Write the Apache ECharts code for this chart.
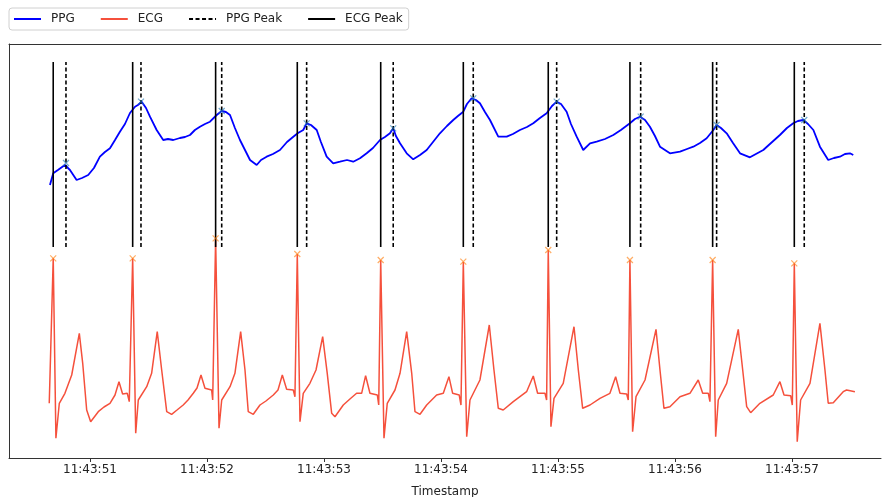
<!DOCTYPE html>
<html><head><meta charset="utf-8">
<script src="https://cdn.jsdelivr.net/npm/echarts@6/dist/echarts.min.js"></script>
<style>html,body{margin:0;padding:0;background:#fff}#c{width:882px;height:497px}</style>
</head><body><div id="c"></div>
<script>
// Seconds after 11:43:50 and signal amplitude (arbitrary units)
const ppgT = [0.658,0.686,0.726,0.786,0.795,0.829,0.886,0.932,0.985,1.034,1.085,1.128,1.171,1.214,1.256,1.299,1.342,1.385,1.410,1.442,1.479,1.513,1.570,1.626,1.667,1.712,1.769,1.812,1.855,1.897,1.940,1.983,2.026,2.083,2.126,2.162,2.197,2.239,2.282,2.325,2.368,2.425,2.462,2.510,2.564,2.624,2.684,2.738,2.778,2.823,2.852,2.889,2.938,2.974,3.023,3.079,3.137,3.197,3.250,3.308,3.365,3.419,3.479,3.521,3.564,3.592,3.615,3.650,3.707,3.763,3.821,3.878,3.932,3.991,4.051,4.105,4.145,4.191,4.222,4.262,4.299,4.333,4.376,4.419,4.490,4.562,4.615,4.675,4.735,4.789,4.846,4.903,4.949,4.989,5.026,5.074,5.111,5.160,5.216,5.231,5.274,5.331,5.402,5.473,5.538,5.615,5.658,5.701,5.744,5.786,5.829,5.872,5.957,6.043,6.103,6.157,6.214,6.271,6.328,6.356,6.393,6.442,6.496,6.556,6.641,6.692,6.755,6.821,6.897,6.957,7.011,7.051,7.097,7.137,7.183,7.239,7.310,7.359,7.410,7.453,7.496,7.524];
const ppgV = [273,284.7,288,293,295,288,278,280,283,290,301.3,306,309.7,318,326.3,334,345,351.3,353,356.3,350,341.3,328,318,319,318,320,321,323,328,331.3,334,336.3,343,347,346,343,330,318,308,298,293,298,301.3,304,308,316,321.3,325,328,334.7,333,328,316,301.3,294.7,296.3,298,296.3,299.7,304.7,310,318,321,324.7,329.7,322,314.7,304.7,298.7,303,308,316,324.7,332,338,342,346.3,354,359.7,358,354.7,346,338,321.3,321.3,324,328,331,334.7,340,344.7,352,356.3,354,346.3,334,321.3,308,306.3,314.7,316.3,319,323,328,334.7,339,341.3,338,331.3,322,311.3,304.7,306.3,309,311.3,315,319.7,328,333,330,324.7,315,304.7,300.7,304,308,315,323,330,334.7,337,338,334,328,311.3,298,300,301.3,304,304.7,303];

const ecgT = [0.652,0.686,0.709,0.738,0.786,0.844,0.909,0.938,0.972,1.006,1.071,1.120,1.171,1.214,1.248,1.279,1.319,1.336,1.365,1.391,1.413,1.485,1.527,1.575,1.613,1.656,1.698,1.744,1.797,1.838,1.883,1.915,1.949,1.983,2.040,2.049,2.074,2.103,2.126,2.197,2.239,2.288,2.325,2.353,2.396,2.453,2.504,2.567,2.607,2.644,2.681,2.738,2.752,2.772,2.795,2.823,2.880,2.932,2.989,3.028,3.066,3.094,3.165,3.222,3.279,3.322,3.356,3.393,3.456,3.468,3.485,3.513,3.541,3.607,3.650,3.707,3.750,3.778,3.821,3.878,3.963,4.020,4.068,4.100,4.156,4.171,4.191,4.220,4.248,4.333,4.413,4.453,4.490,4.532,4.618,4.732,4.789,4.826,4.889,4.903,4.917,4.940,4.966,5.045,5.137,5.174,5.211,5.274,5.359,5.444,5.493,5.530,5.587,5.601,5.615,5.638,5.667,5.744,5.838,5.872,5.906,5.957,6.043,6.128,6.199,6.237,6.285,6.299,6.322,6.348,6.370,6.442,6.541,6.579,6.613,6.647,6.726,6.840,6.897,6.932,6.989,7.003,7.020,7.045,7.074,7.154,7.239,7.282,7.310,7.353,7.438,7.467,7.538];
const ecgV = [54.7,199.7,19.7,54.7,64.7,83,124.7,94.7,48,36.3,46.3,51,54.7,63,76.3,64,64.7,56.3,199.7,24.7,58,71.3,84.7,126.3,88,46.3,43.7,48,53,58,64.7,70,83,69.7,68,58,219.7,29.7,58,71.3,84.7,126.3,88,46.3,43.7,53,57,63,68,83,68.7,68,61.3,204,36.3,64.7,74.7,88,121.3,84.7,44.7,41.3,53,59,64.7,64.7,82.3,64.7,63,53,198,19.7,54.7,68,84.7,126.3,84.7,46.3,43.7,53,63,64.7,81.3,64.7,63,53,196.3,21.3,58,78,133,88,49.7,48,56.3,66.3,82,64.7,64.7,58,208,31.3,59.7,74.7,131.3,88,49.7,53,59.7,64.7,81.3,64.7,64,58,198,26.3,61.3,78,128.7,88,49.7,51.3,61.3,64.7,78,64.7,64.7,56.3,198,21.3,58,74.7,128.7,88,51.3,45.3,54.7,63,76.3,63,62.3,53,194.7,16.3,58,74.7,134.7,88,54.7,55.3,66.3,68,66.3];

const ecgPeakT = [0.686,1.365,2.074,2.772,3.485,4.191,4.917,5.615,6.322,7.020];
const ecgPeakV = [199.7,199.7,219.7,204,198,196.3,208,198,198,194.7];
const ppgPeakT = [0.795,1.436,2.126,2.852,3.592,4.276,4.989,5.707,6.356,7.105];
const ppgPeakV = [295,356.3,347,334.7,329.7,359.7,356.3,341.3,333,338];
const peakLineRange = [211, 396];
const legendNames = ['PPG', 'ECG', 'PPG Peak', 'ECG Peak'];
const xAxisTitle = 'Timestamp';
const xRange = [0.308, 7.761]; // visible seconds after 11:43:50

const base = new Date(2024, 0, 1, 11, 43, 50).getTime();
const ms = t => base + t * 1000;
const pairs = (ts, vs) => ts.map((t, i) => [ms(t), vs[i]]);
const vlines = ts => {
  const out = [];
  ts.forEach(t => { out.push([ms(t), peakLineRange[0]], [ms(t), peakLineRange[1]], [ms(t), '-']); });
  return out;
};
const pad = n => String(n).padStart(2, '0');
const xSym = 'path://M0,0L10,10M10,0L0,10';
const frame = {show: true, lineStyle: {color: '#333', width: 1}};

const chart = echarts.init(document.getElementById('c'), null, {renderer: 'canvas'});
chart.setOption({
  animation: false,
  backgroundColor: '#fff',
  textStyle: {fontFamily: 'DejaVu Sans'},
  legend: {
    data: legendNames,
    left: 9, top: 8,
    padding: [5, 6, 5, 4],
    itemWidth: 27, itemHeight: 14, itemGap: 25,
    itemStyle: {opacity: 0},
    borderColor: '#d0d0d0', borderWidth: 1, borderRadius: 3,
    textStyle: {fontSize: 12, color: '#222', fontFamily: 'DejaVu Sans', padding: [0, 0, 0, 5]}
  },
  grid: {left: 9, top: 44, right: 1, height: 414, show: false, containLabel: false, outerBoundsMode: 'none'},
  xAxis: [{
    type: 'time',
    min: ms(xRange[0]), max: ms(xRange[1]),
    minInterval: 1000, maxInterval: 1000,
    name: xAxisTitle, nameLocation: 'middle', nameGap: 28,
    nameTextStyle: {fontSize: 12, color: '#222', fontFamily: 'DejaVu Sans'},
    axisLine: frame,
    axisTick: {show: true, length: 4, lineStyle: {color: '#333'}},
    axisLabel: {fontSize: 12, color: '#222', margin: 6, fontFamily: 'DejaVu Sans',
      formatter: v => { const d = new Date(v); return pad(d.getHours()) + ':' + pad(d.getMinutes()) + ':' + pad(d.getSeconds()); }},
    splitLine: {show: false}
  }, {
    type: 'time', position: 'top',
    min: ms(xRange[0]), max: ms(xRange[1]),
    axisLine: frame, axisTick: {show: false}, axisLabel: {show: false}, splitLine: {show: false}
  }],
  yAxis: {type: 'value', min: 0, max: 414, axisLine: frame, axisTick: {show: false}, axisLabel: {show: false}, splitLine: {show: false}},
  series: [
    {name: 'PPG', type: 'line', data: pairs(ppgT, ppgV), showSymbol: false, symbol: 'none',
      lineStyle: {color: '#0000ff', width: 1.8}, itemStyle: {color: '#0000ff'}},
    {name: 'ECG', type: 'line', data: pairs(ecgT, ecgV), showSymbol: false, symbol: 'none',
      lineStyle: {color: '#f5503c', width: 1.5}, itemStyle: {color: '#f5503c'}},
    {name: 'PPG Peak', type: 'line', data: vlines(ppgPeakT), showSymbol: false, symbol: 'none', connectNulls: false,
      lineStyle: {color: '#000', width: 1.6, type: [4, 2.5]}, itemStyle: {color: '#000'}},
    {name: 'ECG Peak', type: 'line', data: vlines(ecgPeakT), showSymbol: false, symbol: 'none', connectNulls: false,
      lineStyle: {color: '#000', width: 1.6}, itemStyle: {color: '#000'}},
    {name: 'ppgMarks', type: 'scatter', data: pairs(ppgPeakT, ppgPeakV), symbol: xSym, symbolSize: 6,
      itemStyle: {color: 'none', borderColor: 'rgba(31,119,180,0.8)', borderWidth: 1.2}, z: 5},
    {name: 'ecgMarks', type: 'scatter', data: pairs(ecgPeakT, ecgPeakV), symbol: xSym, symbolSize: 6,
      itemStyle: {color: 'none', borderColor: 'rgba(255,127,14,0.8)', borderWidth: 1.2}, z: 5}
  ]
});
</script>
</body></html>
